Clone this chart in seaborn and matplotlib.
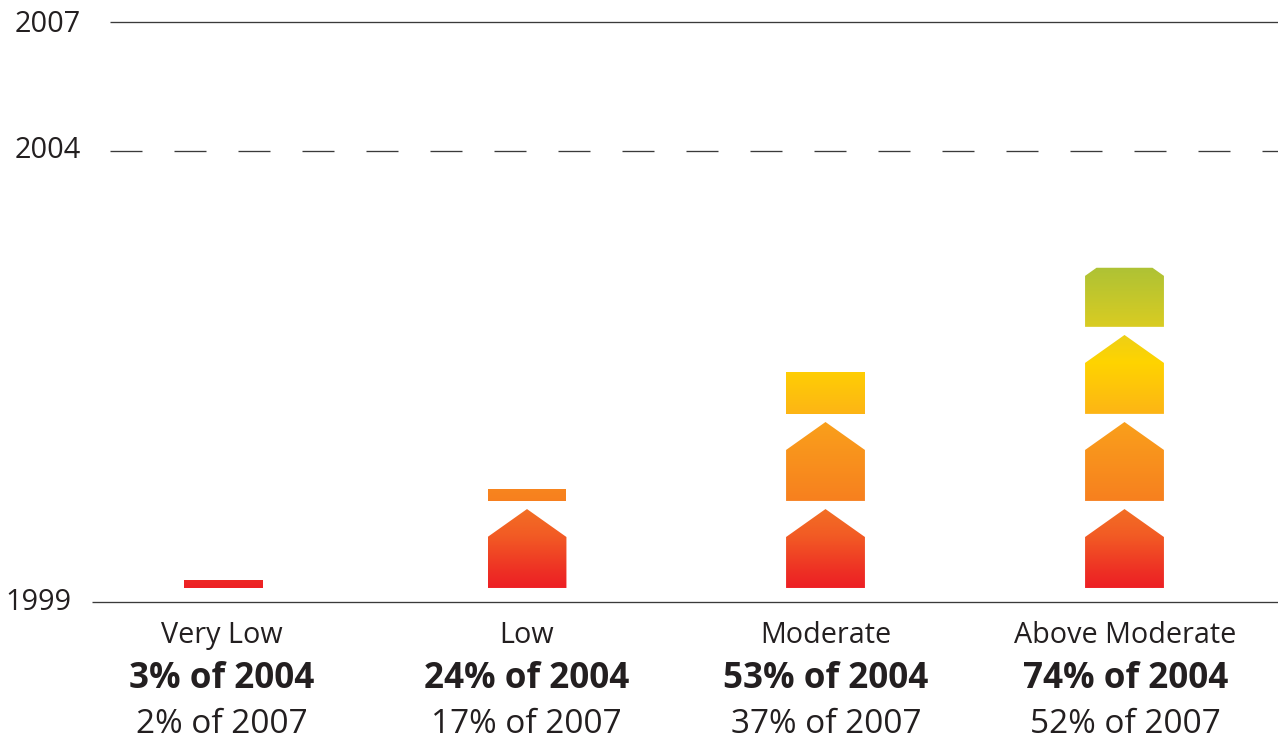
import matplotlib
matplotlib.use('Agg')
import matplotlib.pyplot as plt
from matplotlib.colors import LinearSegmentedColormap
from matplotlib.patches import Polygon
import numpy as np
import pandas as pd
import seaborn as sns

# the data, y is percent of the 2004 target (1999 = 0)
categories = ['Very Low', 'Low', 'Moderate', 'Above Moderate']
pct_2004 = [3, 24, 53, 74]
pct_2007 = [2, 17, 37, 52]
year_labels = ['2007', '2004', '1999']
year_values = [128.4, 100, 0]

# each band starts at the same level in every column, the top is where the column ends
band_bottoms = [3.0, 22.3, 41.6, 60.9]
band_tops = [
    [4.8, 20.5, 20.5, 20.5],
    [np.nan, 24.9, 39.8, 39.8],
    [np.nan, np.nan, 50.9, 59.1],
    [np.nan, np.nan, np.nan, 74.0],
]

# layout, in figure pixels for x
slots = [223.5, 527, 825.5, 1124.5]
bar_px = 79
px_per_unit = 4.51
shoulder_drop = 6.2  # height of the roof
band_span = 11.3  # wall height below the shoulder

# colour ramp, by height on the y axis
ramp_levels = [3.0, 7.0, 14.3, 20.5, 22.3, 39.8, 41.6, 53.0, 59.1, 60.9, 74.0]
ramp_colors = ['#ed2024', '#ee3224', '#f25a24', '#f36f24', '#f7801f', '#faa01b',
               '#fdb515', '#ffd400', '#edcf17', '#d9cc22', '#aec235']

sns.set_style('white')
plt.rcParams['font.family'] = ['Open Sans', 'DejaVu Sans']
plt.rcParams['lines.scale_dashes'] = False

fig = plt.figure(figsize=(12.78, 7.39), dpi=100)
ax = fig.add_axes([0, 0, 1, 1])

low, high = ramp_levels[0], ramp_levels[-1]
stops = [(v - low) / (high - low) for v in ramp_levels]
cmap = LinearSegmentedColormap.from_list('ramp', list(zip(stops, ramp_colors)))
grad = np.linspace(1, 0, 512).reshape(-1, 1)

for bottom, tops in zip(band_bottoms, band_tops):
    df = pd.DataFrame({'slot': slots, 'height': np.array(tops) - bottom})
    n_before = len(ax.patches)
    sns.barplot(data=df, x='slot', y='height', native_scale=True, orient='x', bottom=bottom,
                width=bar_px / 299, color='white', errorbar=None, legend=False, ax=ax)
    for bar in list(ax.patches)[n_before:]:
        if np.isnan(bar.get_height()):
            continue
        bar.set_visible(False)
        x0, w = bar.get_x(), bar.get_width()
        y0, y1 = bar.get_y(), bar.get_y() + bar.get_height()
        shoulder = y0 + band_span
        peak = shoulder + shoulder_drop
        # house outline, cut off where the column ends
        if y1 >= peak - 0.05:
            pts = [(x0, y0), (x0 + w, y0), (x0 + w, shoulder), (x0 + w / 2, peak), (x0, shoulder)]
        elif y1 > shoulder:
            inset = (y1 - shoulder) / shoulder_drop * w / 2
            pts = [(x0, y0), (x0 + w, y0), (x0 + w, shoulder), (x0 + w - inset, y1),
                   (x0 + inset, y1), (x0, shoulder)]
        else:
            pts = [(x0, y0), (x0 + w, y0), (x0 + w, y1), (x0, y1)]
        im = ax.imshow(grad, cmap=cmap, vmin=0, vmax=1, aspect='auto', interpolation='bilinear',
                       extent=[x0, x0 + w, low, high], zorder=2)
        im.set_clip_path(Polygon(pts, closed=True, transform=ax.transData))

# reference lines
line_color = '#3a3a3a'
ax.plot([110, 1278], [year_values[0]] * 2, color=line_color, lw=0.95, solid_capstyle='butt')
ax.plot([110, 1278], [year_values[1]] * 2, color=line_color, lw=0.95,
        linestyle=(0, (23.04, 23.04)), dash_capstyle='butt')
ax.plot([92, 1278], [year_values[2]] * 2, color=line_color, lw=0.95, solid_capstyle='butt')


def px_y(py):
    return (601.5 - py) / px_per_unit


text_color = '#231f20'
ax.text(48, px_y(32), year_labels[0], ha='center', va='baseline', fontsize=20.8, color=text_color)
ax.text(48, px_y(158), year_labels[1], ha='center', va='baseline', fontsize=20.8, color=text_color)
ax.text(38, px_y(610), year_labels[2], ha='center', va='baseline', fontsize=20.8, color=text_color)

label_x = [221.5, 526.5, 826, 1125.5]
for x, name, a, b in zip(label_x, categories, pct_2004, pct_2007):
    ax.text(x, px_y(643), name, ha='center', va='baseline', fontsize=20.7, color=text_color)
    ax.text(x, px_y(688), f'{a}% of 2004', ha='center', va='baseline', fontsize=25.2,
            fontweight='bold', color=text_color)
    ax.text(x, px_y(733), f'{b}% of 2007', ha='center', va='baseline', fontsize=24, color=text_color)

ax.set_xlim(0, 1278)
ax.set_ylim(-(739 - 601.5) / px_per_unit, 601.5 / px_per_unit)
ax.set_axis_off()

fig.savefig('out.png', dpi=100, facecolor='white')
